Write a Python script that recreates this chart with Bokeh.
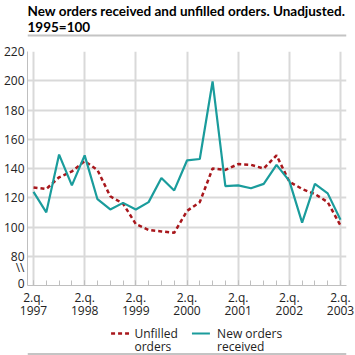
from bokeh.plotting import figure
from bokeh.models import FixedTicker, Range1d
from bokeh.layouts import column
from bokeh.core.properties import value
from bokeh.embed import file_html
from bokeh.resources import INLINE

# ---- data -------------------------------------------------------------
quarters = list(range(25))  # 1997 Q2 .. 2003 Q2
unfilled = [127, 126, 134, 138, 145, 139, 121, 116, 102, 98, 97, 96,
            111, 117, 140, 139, 143, 142.5, 140, 149, 131, 126, 122.5, 117, 101]
new_orders = [124, 110, 149.5, 128.5, 149, 119, 112, 116.5, 112, 117, 133.5, 125,
              145.5, 146.5, 199.5, 128, 128.5, 126.5, 129.5, 142.5, 131.5, 103, 129.5, 123, 105]
year_ticks = [0, 4, 8, 12, 16, 20, 24]
year_labels = ["2.q.\n1997", "2.q.\n1998", "2.q.\n1999", "2.q.\n2000",
               "2.q.\n2001", "2.q.\n2002", "2.q.\n2003"]
grid_ticks = [80, 100, 120, 140, 160, 180, 200, 220]
zero_pos = 61.5      # where the "0" of the broken axis is shown
break_pos = 72       # where the axis-break mark is shown
title_lines = ["New orders received and unfilled orders. Unadjusted.", "1995=100"]
legend_labels = [["Unfilled", "orders"], ["New orders", "received"]]

FONT = "Open Sans"
TITLE_FONT = "Lato"
GRID = "#d9d9d9"
TEAL = "#1a9c9c"
RED = "#a8171c"
W = 355


def blank(height):
    f = figure(width=W, height=height, output_backend="svg", toolbar_location=None,
               x_range=Range1d(0, W), y_range=Range1d(height, 0),
               x_axis_location=None, y_axis_location=None, title=None,
               min_border=0)
    f.grid.visible = False
    f.outline_line_color = None
    return f


# ---- header -----------------------------------------------------------
head = blank(37)
head.text(x=[0, 0], y=[10, 26], text=title_lines, text_font=value(TITLE_FONT),
          text_font_style="bold", text_font_size="13.5px", text_color="#000000",
          text_baseline="middle", text_align="left")
head.segment(x0=[0], y0=[35], x1=[W], y1=[35], line_color="#c4c4c4", line_width=2)

# ---- main chart -------------------------------------------------------
p = figure(width=W, height=285, output_backend="svg", toolbar_location=None,
           title=None, x_range=Range1d(-0.47, 24.47), y_range=Range1d(60, 220),
           min_border_left=25, min_border_right=9, min_border_top=14,
           min_border_bottom=37)
p.outline_line_color = None

p.line(quarters, unfilled, line_color=RED, line_width=2.5, line_dash="4 3")
p.line(quarters, new_orders, line_color=TEAL, line_width=2.2)

p.xaxis.ticker = FixedTicker(ticks=year_ticks, minor_ticks=quarters)
p.xaxis.major_label_overrides = {t: l for t, l in zip(year_ticks, year_labels)}
p.xaxis.major_tick_in = 5
p.xaxis.major_tick_out = 0
p.xaxis.minor_tick_in = 5
p.xaxis.minor_tick_out = 0
p.xaxis.axis_line_color = "#bfbfbf"
p.xaxis.major_tick_line_color = "#bfbfbf"
p.xaxis.minor_tick_line_color = "#bfbfbf"
p.xaxis.major_label_text_font = FONT
p.xaxis.major_label_text_font_size = "12px"
p.xaxis.major_label_text_color = "#222222"
p.xaxis.major_label_text_line_height = 0.8
p.xaxis.major_label_standoff = 3

p.yaxis.ticker = FixedTicker(ticks=[zero_pos, break_pos] + grid_ticks)
p.yaxis.major_label_overrides = {zero_pos: "0", break_pos: "\\\\"}
p.yaxis.major_tick_in = 0
p.yaxis.major_tick_out = 0
p.yaxis.minor_tick_line_color = None
p.yaxis.axis_line_color = "#bfbfbf"
p.yaxis.major_label_text_font = FONT
p.yaxis.major_label_text_font_size = "12px"
p.yaxis.major_label_text_color = "#222222"
p.yaxis.major_label_standoff = 3

p.xgrid.grid_line_color = GRID
p.xgrid.grid_line_width = 2
p.ygrid.ticker = FixedTicker(ticks=grid_ticks)
p.ygrid.grid_line_color = GRID
p.ygrid.grid_line_width = 2

# ---- footer (legend) --------------------------------------------------
foot = blank(33)
foot.line(x=[93, 113], y=[11, 11], line_color=RED, line_width=2.5, line_dash="4 3")
foot.line(x=[183, 203], y=[11, 11], line_color=TEAL, line_width=2.2)
foot.text(x=[119, 119, 211, 211], y=[10.5, 24, 10.5, 24],
          text=[legend_labels[0][0], legend_labels[0][1],
                legend_labels[1][0], legend_labels[1][1]],
          text_font=value(FONT), text_font_size="12px", text_color="#222222",
          text_baseline="middle", text_align="left")
foot.segment(x0=[0], y0=[31.5], x1=[W], y1=[31.5], line_color="#c4c4c4", line_width=2)

layout = column(head, p, foot, spacing=0)
open("out.html", "w").write(file_html(layout, INLINE))
